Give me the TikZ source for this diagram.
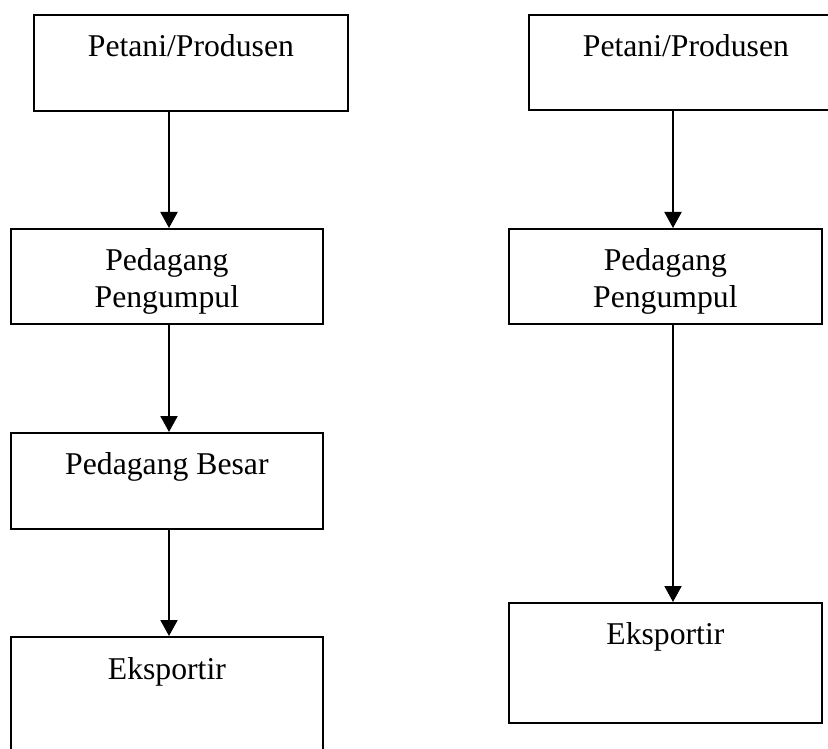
\documentclass[tikz,border=0pt]{standalone}
\usepackage{fontspec}
\setmainfont{Liberation Serif}
\usetikzlibrary{arrows.meta}
\tikzset{
  boxnode/.style={draw, line width=1.8pt, rectangle, inner sep=0pt, anchor=north west},
  lbl/.style={anchor=north, inner sep=0pt, align=center, font=\fontsize{31.7}{37}\selectfont},
  arr/.style={line width=2pt, -{Triangle[width=17pt,length=16pt]}}
}
\begin{document}
\begin{tikzpicture}[x=1pt,y=-1pt]
\useasboundingbox (0,0) rectangle (828,749);
\clip (0,0) rectangle (828,749);
% left column
\node[boxnode, minimum width=314pt, minimum height=96pt] (L1) at (33,14) {};
\node[boxnode, minimum width=312pt, minimum height=95pt] (L2) at (10,228) {};
\node[boxnode, minimum width=312pt, minimum height=96pt] (L3) at (10,432) {};
\node[boxnode, minimum width=312pt, minimum height=150pt] (L4) at (10,636) {};
% right column
\node[boxnode, minimum width=314pt, minimum height=95pt] (R1) at (528,14) {};
\node[boxnode, minimum width=313pt, minimum height=95pt] (R2) at (508,228) {};
\node[boxnode, minimum width=313pt, minimum height=120pt] (R3) at (508,602) {};
% labels
\node[lbl] (tL1) at ([yshift=-20pt]L1.north) {Petani/Produsen};
\node[lbl] (tL2) at ([yshift=-20pt]L2.north) {Pedagang\\Pengumpul};
\node[lbl] (tL3) at ([yshift=-20pt]L3.north) {Pedagang Besar};
\node[lbl] (tL4) at ([yshift=-21pt]L4.north) {Eksportir};
\node[lbl] (tR1) at ([yshift=-20pt]R1.north) {Petani/Produsen};
\node[lbl] (tR2) at ([yshift=-20pt]R2.north) {Pedagang\\Pengumpul};
\node[lbl] (tR3) at ([yshift=-20pt]R3.north) {Eksportir};
% arrow columns
\coordinate (cL) at (169,0);
\coordinate (cR) at (673,0);
\draw[arr] (L1.south -| cL) -- (L2.north -| cL);
\draw[arr] (L2.south -| cL) -- (L3.north -| cL);
\draw[arr] (L3.south -| cL) -- (L4.north -| cL);
\draw[arr] (R1.south -| cR) -- (R2.north -| cR);
\draw[arr] (R2.south -| cR) -- (R3.north -| cR);
\end{tikzpicture}
\end{document}
